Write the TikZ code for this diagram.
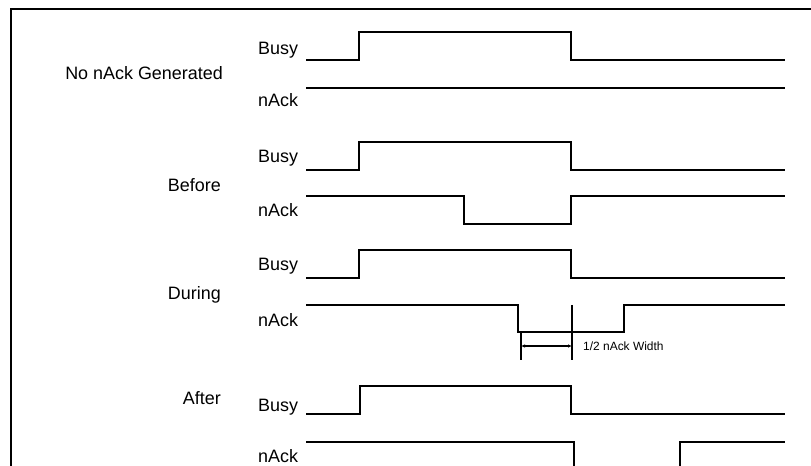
\documentclass[tikz,border=0pt]{standalone}
\usepackage{fontspec}
\setmainfont{Liberation Sans}
\usetikzlibrary{arrows.meta}
\begin{document}
\begin{tikzpicture}[x=1bp, y=-1bp,
  wave/.style={line width=2bp, line join=miter, line cap=butt},
  frameline/.style={line width=2.2bp},
  siglabel/.style={inner sep=0pt, anchor=west, font=\fontsize{18}{21}\selectfont},
  rowname/.style={inner sep=0pt, anchor=east, font=\fontsize{18}{21}\selectfont},
  dimline/.style={line width=1.6bp},
  dimarrow/.style={line width=1.6bp, {Latex[length=4bp,width=3.5bp]}-{Latex[length=4bp,width=3.5bp]}},
  note/.style={inner sep=0pt, anchor=west, font=\fontsize{12}{14}\selectfont}]
\useasboundingbox (0,0) rectangle (811,466);

% open frame: top and left edges only
\draw[frameline] (11,466) -- (11,9) -- (811,9);

% ---- No nAck Generated ----
\node[rowname] (r1) at (223,73) {No nAck Generated};
\node[siglabel] (b1) at (258,50) {Busy};
\node[siglabel] (n1) at (258,100) {nAck};
\draw[wave] (306,60) -- (359,60) -- (359,32) -- (571,32) -- (571,60) -- (785,60);
\draw[wave] (306,88) -- (785,88);

% ---- Before ----
\node[rowname] (r2) at (221,185) {Before};
\node[siglabel] (b2) at (258,158) {Busy};
\node[siglabel] (n2) at (258,210) {nAck};
\draw[wave] (306,170) -- (359,170) -- (359,142) -- (571,142) -- (571,170) -- (785,170);
\draw[wave] (306,196) -- (464,196) -- (464,224) -- (571,224) -- (571,196) -- (785,196);

% ---- During ----
\node[rowname] (r3) at (221,295) {During};
\node[siglabel] (b3) at (258,266) {Busy};
\node[siglabel] (n3) at (258,320) {nAck};
\draw[wave] (306,278) -- (359,278) -- (359,250) -- (571,250) -- (571,278) -- (785,278);
\draw[wave] (306,305) -- (518,305) -- (518,332) -- (624,332) -- (624,305) -- (785,305);

% half-width dimension
\coordinate (d1top) at (521,332);
\coordinate (d1bot) at (521,360);
\coordinate (d2top) at (572,305);
\coordinate (d2bot) at (572,360);
\coordinate (a1) at (521,346);
\coordinate (a2) at (572,346);
\draw[dimline] (d1top) -- (d1bot);
\draw[dimline] (d2top) -- (d2bot);
\draw[dimarrow] (a1) -- (a2);
\node[note] (w) at (583,346) {1/2 nAck Width};

% ---- After ----
\node[rowname] (r4) at (221,398) {After};
\node[siglabel] (b4) at (258,407) {Busy};
\node[siglabel] (n4) at (258,456) {nAck};
\draw[wave] (306,414) -- (360,414) -- (360,386) -- (571,386) -- (571,414) -- (785,414);
\draw[wave] (306,442) -- (574,442) -- (574,468);
\draw[wave] (680,468) -- (680,442) -- (785,442);
\end{tikzpicture}
\end{document}
